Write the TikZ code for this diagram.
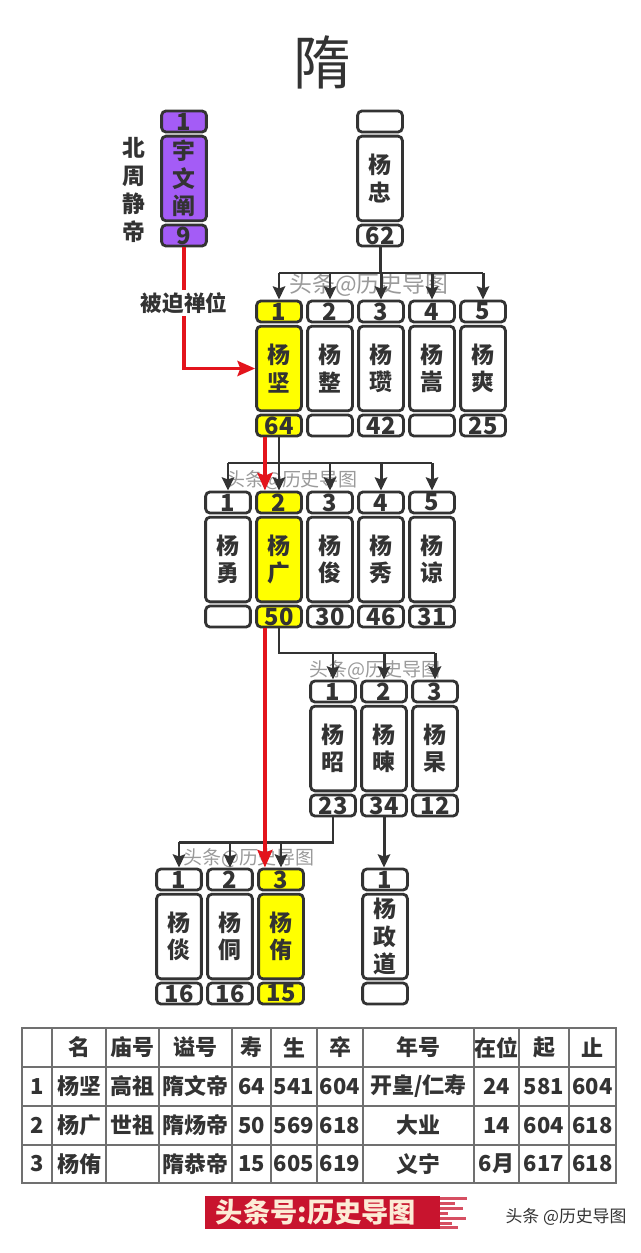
\documentclass[tikz,border=0pt]{standalone}
\usepackage{fontspec}
\setmainfont{Noto Sans CJK SC}
\usetikzlibrary{arrows.meta}
\definecolor{ink}{HTML}{333333}
\definecolor{royal}{HTML}{A45CF6}
\definecolor{heir}{HTML}{FFFF00}
\definecolor{shift}{HTML}{E3141C}
\definecolor{rule}{HTML}{707070}
\definecolor{mark}{HTML}{9A9A9A}
\definecolor{brand}{HTML}{C8142E}
\definecolor{cream}{HTML}{FCEBD6}

\tikzset{
  numbox/.style={draw=ink, line width=1.6pt, rounded corners=2.5pt, minimum width=25.5pt,
    minimum height=12pt, inner sep=0pt, font=\bfseries\fontsize{13.5}{13.5}\selectfont},
  namebox/.style={numbox, minimum height=48.2pt, align=center,
    font=\bfseries\fontsize{13}{15.6}\selectfont},
  link/.style={draw=ink, line width=1.7pt},
  tolink/.style={link, -{Stealth[length=7.5pt, width=7pt, inset=1.2pt]}},
  usurp/.style={draw=shift, line width=2.2pt, -{Stealth[length=10pt, width=8.5pt, inset=1.5pt]}},
  wmark/.style={text=mark, font=\fontsize{10.8}{10.8}\selectfont},
  cell/.style={font=\bfseries\fontsize{12.5}{12.5}\selectfont, inner sep=0pt},
  grid/.style={draw=rule, line width=1.1pt}
}

% rank box, name box, age box
\newcommand{\person}[7]{%
  \node[numbox, fill=#7] (#1-n) at (#2,#3+11.5) {#4};
  \node[namebox, fill=#7] (#1) at (#2,#3+68.5) {#5};
  \node[numbox, fill=#7] (#1-a) at (#2,#3+125.5) {#6};
}

\begin{document}
\begin{tikzpicture}[x=0.02cm, y=-0.02cm, every node/.style={text=ink}]
  \useasboundingbox (0,0) rectangle (640,1253);

  % Title
  \node[font=\fontsize{33}{33}\selectfont] (dynasty) at (322,62) {隋};

  % Watermarks
  \node[wmark, font=\fontsize{13}{13}\selectfont] (wm1) at (369,285) {头条@历史导图};
  \node[wmark] (wm2) at (292,480) {头条@历史导图};
  \node[wmark] (wm3) at (375,670) {头条@历史导图};
  \node[wmark] (wm4) at (249,858) {头条@历史导图};

  % Generation 1
  \person{yuwen}{184}{110}{1}{宇\\文\\阐}{9}{royal}
  \person{zhong}{380}{110}{}{杨\\忠}{62}{white}
  \node[font=\bfseries\fontsize{13}{15.8}\selectfont, align=center] (zhou) at (134,190) {北\\周\\静\\帝};

  % Generation 2
  \person{jian}{279}{300}{1}{杨\\坚}{64}{heir}
  \person{zheng}{330}{300}{2}{杨\\整}{}{white}
  \person{zan}{381}{300}{3}{杨\\瓒}{42}{white}
  \person{song}{432}{300}{4}{杨\\嵩}{}{white}
  \person{shuang}{483}{300}{5}{杨\\爽}{25}{white}

  % Generation 3
  \person{yong}{228}{491}{1}{杨\\勇}{}{white}
  \person{guang}{279}{491}{2}{杨\\广}{50}{heir}
  \person{jun}{330}{491}{3}{杨\\俊}{30}{white}
  \person{xiu}{381}{491}{4}{杨\\秀}{46}{white}
  \person{liang}{432}{491}{5}{杨\\谅}{31}{white}

  % Generation 4
  \person{zhao}{333}{680}{1}{杨\\昭}{23}{white}
  \person{jianb}{384}{680}{2}{杨\\暕}{34}{white}
  \person{gao}{435}{680}{3}{杨\\杲}{12}{white}

  % Generation 5
  \person{tan}{179}{868}{1}{杨\\倓}{16}{white}
  \person{tong}{230}{868}{2}{杨\\侗}{16}{white}
  \person{you}{281}{868}{3}{杨\\侑}{15}{heir}
  \person{zhengdao}{385}{868}{1}{杨\\政\\道}{}{white}

  % Sons of Yang Zhong
  \coordinate (zbar) at (380,273);
  \draw[link] (zhong-a.south) -- (zbar);
  \draw[link] (zbar -| jian-n) -- (zbar -| shuang-n);
  \foreach \c in {jian,zheng,zan,song,shuang}
    \draw[tolink] (zbar -| \c-n) -- (\c-n.north);

  % Sons of Yang Jian
  \coordinate (jbar) at (279,463);
  \draw[link] (jian-a.south) -- (jbar);
  \draw[link] (jbar -| yong-n) -- (jbar -| liang-n);
  \foreach \c in {yong,guang,jun,xiu,liang}
    \draw[tolink] (jbar -| \c-n) -- (\c-n.north);

  % Sons of Yang Guang
  \coordinate (gbar) at (279,653);
  \draw[link] (guang-a.south) |- (gbar -| gao-n);
  \foreach \c in {zhao,jianb,gao}
    \draw[tolink] (gbar -| \c-n) -- (\c-n.north);

  % Sons of Yang Zhao, Yang Jian (b)
  \coordinate (zhbar) at (333,842);
  \draw[link] (zhao-a.south) |- (zhbar -| tan-n);
  \foreach \c in {tan,tong,you}
    \draw[tolink] (zhbar -| \c-n) -- (\c-n.north);
  \draw[tolink] (jianb-a.south) -- (jianb-a.south |- zhengdao-n.north);

  % Throne line
  \draw[usurp] (yuwen-a.south) |- (jian.west);
  \node[fill=white, inner sep=1.5pt, font=\bfseries\fontsize{12.3}{12.3}\selectfont] (forced) at (184,303) {被迫禅位};
  \draw[usurp] ([xshift=-8pt]jian-a.south) -- ([xshift=-8pt]guang-n.north);
  \draw[usurp] ([xshift=-8pt]guang-a.south) -- ([xshift=-8pt]guang-a.south |- you-n.north);

  % Table
  \draw[grid] (22,1028) rectangle (616,1183);
  \foreach \x in {52,106,159,232,271,317,363,474,519,569}
    \draw[grid] (\x,1028) -- (\x,1183);
  \foreach \y in {1067,1106,1145}
    \draw[grid] (22,\y) -- (616,\y);
  \foreach \x/\t [count=\k] in {79/名,132.5/庙号,195.5/谥号,251.5/寿,294/生,340/卒,
                                418.5/年号,496.5/在位,544/起,592.5/止}
    \node[cell] (h\k) at (\x,1047.5) {\t};
  \foreach \x/\t [count=\k] in {37/1,79/杨坚,132.5/高祖,195.5/隋文帝,251.5/64,294/541,340/604,
                                418.5/{开皇/仁寿},496.5/24,544/581,592.5/604}
    \node[cell] (a\k) at (\x,1086.5) {\t};
  \foreach \x/\t [count=\k] in {37/2,79/杨广,132.5/世祖,195.5/隋炀帝,251.5/50,294/569,340/618,
                                418.5/大业,496.5/14,544/604,592.5/618}
    \node[cell] (b\k) at (\x,1125.5) {\t};
  \foreach \x/\t [count=\k] in {37/3,79/杨侑,195.5/隋恭帝,251.5/15,294/605,340/619,
                                418.5/义宁,496.5/6月,544/617,592.5/618}
    \node[cell] (c\k) at (\x,1164) {\t};

  % Footer
  \fill[brand] (205,1196) rectangle (440,1229);
  \foreach \y/\l in {1197/467,1202/455,1207/463,1212/448,1217/466,1222/452,1226/458}
    \fill[brand!75] (440,\y) rectangle (\l,\y+2.6);
  \node[text=cream, font=\bfseries\fontsize{15.5}{15.5}\selectfont] (banner) at (316,1212) {头条号:历史导图};
  \node[font=\fontsize{9.6}{9.6}\selectfont] (credit) at (566,1217) {头条 @历史导图};
\end{tikzpicture}
\end{document}
